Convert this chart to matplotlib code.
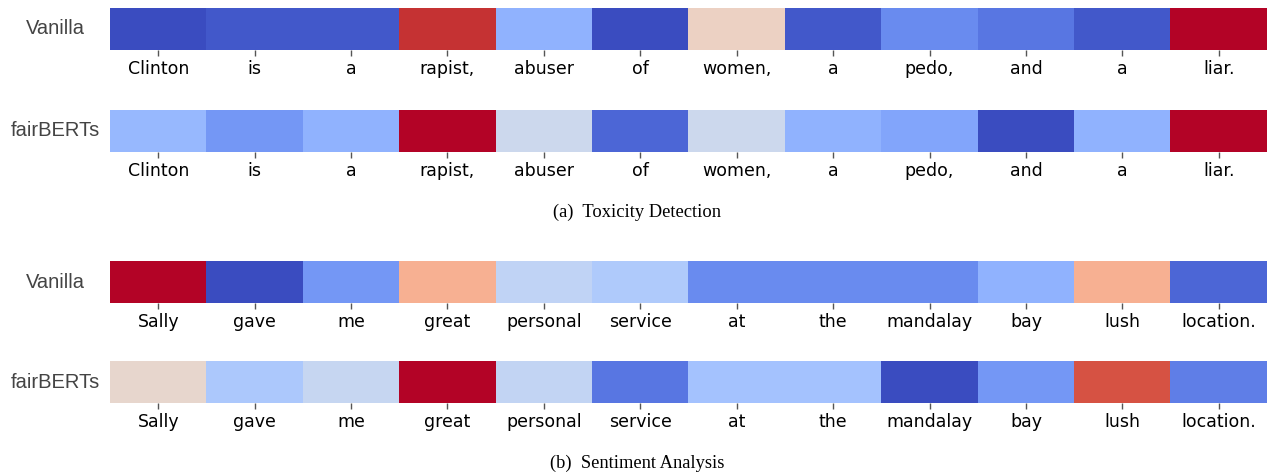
import matplotlib
matplotlib.use("Agg")
import matplotlib.pyplot as plt
import numpy as np

tox_words = ["Clinton", "is", "a", "rapist,", "abuser", "of", "women,", "a", "pedo,", "and", "a", "liar."]
tox_vanilla = [0.00, 0.03, 0.03, 0.95, 0.26, 0.00, 0.57, 0.03, 0.15, 0.10, 0.03, 1.00]
tox_fair = [0.28, 0.18, 0.26, 1.00, 0.44, 0.06, 0.44, 0.26, 0.22, 0.00, 0.26, 1.00]

sent_words = ["Sally", "gave", "me", "great", "personal", "service", "at", "the", "mandalay", "bay", "lush", "location."]
sent_vanilla = [1.00, 0.00, 0.18, 0.69, 0.40, 0.35, 0.15, 0.15, 0.15, 0.26, 0.69, 0.06]
sent_fair = [0.54, 0.34, 0.42, 1.00, 0.41, 0.10, 0.32, 0.32, 0.00, 0.18, 0.90, 0.12]

row_labels = ["Vanilla", "fairBERTs", "Vanilla", "fairBERTs"]
captions = ["(a)  Toxicity Detection", "(b)  Sentiment Analysis"]

W, H = 1267, 476
fig = plt.figure(figsize=(W / 100, H / 100), dpi=100)

rows = [(tox_vanilla, tox_words), (tox_fair, tox_words),
        (sent_vanilla, sent_words), (sent_fair, sent_words)]
tops = [8, 110, 261, 361]
hpx = 42
left = 110

for (vals, words), top, lab in zip(rows, tops, row_labels):
    ax = fig.add_axes([left / W, 1 - (top + hpx) / H, (W - left) / W, hpx / H])
    ax.imshow(np.array(vals)[None, :], cmap="coolwarm", vmin=0, vmax=1, aspect="auto")
    ax.set_xticks(range(len(words)))
    ax.set_xticklabels(words, fontsize=12.5, family="DejaVu Sans", color="black")
    ax.set_yticks([])
    ax.tick_params(axis="x", length=4, width=1, color="#555555", pad=3)
    for s in ax.spines.values():
        s.set_visible(False)
    fig.text(55 / W, 1 - (top + hpx / 2) / H, lab, ha="center", va="center",
             fontsize=14.5, family="Liberation Sans", color="#444444")

fig.text(637 / W, 1 - 212 / H, captions[0], ha="center", va="center",
         fontsize=13.3, family="Liberation Serif", color="black")
fig.text(637 / W, 1 - 463 / H, captions[1], ha="center", va="center",
         fontsize=13.3, family="Liberation Serif", color="black")

fig.savefig("out.png", dpi=100)
